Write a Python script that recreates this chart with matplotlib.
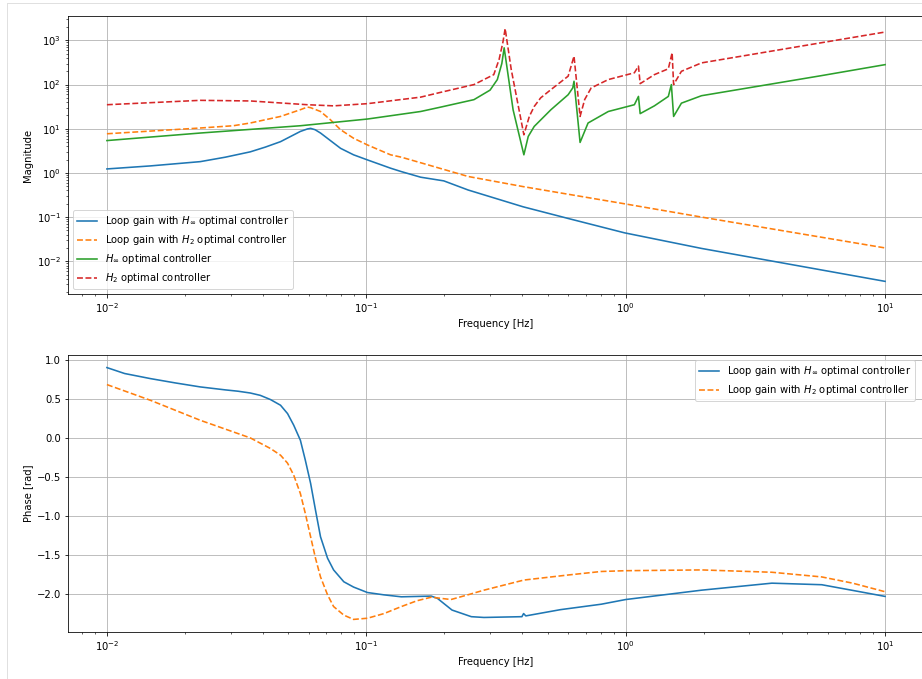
import numpy as np
import matplotlib
matplotlib.use('Agg')
import matplotlib.pyplot as plt
from matplotlib.lines import Line2D

# magnitude curves
f_Lhinf = [0.0100, 0.0147, 0.0229, 0.0286, 0.0357, 0.0408, 0.0467, 0.0557, 0.0593, 0.0610,
           0.0635, 0.0666, 0.0727, 0.0796, 0.0893, 0.101, 0.124, 0.1365, 0.162, 0.199,
           0.247, 0.402, 0.600, 0.989, 1.96, 10.0]
m_Lhinf = [1.23, 1.44, 1.8, 2.27, 3.0, 3.84, 5.1, 8.7, 9.9, 10.2,
           9.5, 8.0, 5.4, 3.6, 2.57, 1.97, 1.28, 1.07, 0.80, 0.66,
           0.41, 0.171, 0.093, 0.044, 0.0195, 0.0035]

f_Lh2 = [0.0100, 0.0229, 0.0307, 0.0357, 0.0467, 0.0557, 0.0593, 0.0610, 0.0666, 0.0727,
         0.0796, 0.0893, 0.101, 0.124, 0.1365, 0.162, 0.247, 0.402, 0.989, 1.96, 10.0]
m_Lh2 = [7.7, 10.4, 11.7, 13.5, 19, 27, 31, 30, 24.6, 16,
         9.5, 6.1, 4.3, 2.57, 2.27, 1.7, 0.83, 0.49, 0.20, 0.10, 0.02]

f_Khinf = [0.0100, 0.0229, 0.0557, 0.101, 0.162, 0.194, 0.260, 0.300, 0.320, 0.333,
           0.340, 0.368, 0.405, 0.421, 0.444, 0.515, 0.600, 0.625, 0.632, 0.667,
           0.716, 0.857, 1.08, 1.12, 1.137, 1.29, 1.46, 1.50, 1.53, 1.64,
           1.96, 5.70, 10.0]
m_Khinf = [5.4, 8.0, 11.7, 16.6, 24.6, 31, 45.6, 75, 130, 300,
           680, 27, 2.57, 6.7, 11.3, 27, 59, 84, 119, 4.9,
           13.5, 24.6, 35, 54, 22, 33, 54, 100, 19, 38,
           56, 160, 283]

f_Kh2 = [0.0100, 0.0229, 0.0357, 0.0593, 0.0748, 0.101, 0.162, 0.194, 0.260, 0.310,
         0.325, 0.336, 0.343, 0.362, 0.405, 0.425, 0.444, 0.470, 0.515, 0.600,
         0.632, 0.667, 0.695, 0.736, 0.857, 1.08, 1.12, 1.137, 1.29, 1.46,
         1.51, 1.53, 1.64, 1.96, 5.70, 10.0]
m_Kh2 = [35, 44, 42.6, 35, 33, 37, 52, 67, 100, 168,
         370, 890, 1850, 220, 7.3, 19, 32, 50, 77, 155,
         440, 19, 46, 84, 130, 185, 262, 105, 168, 228,
         525, 100, 200, 310, 890, 1550]

# phase curves
f_Phinf = [0.0100, 0.0117, 0.0147, 0.0183, 0.0229, 0.0286, 0.0320, 0.0357, 0.0390, 0.0427,
           0.0467, 0.0497, 0.0525, 0.0557, 0.0582, 0.0610, 0.0637, 0.0666, 0.0709, 0.0748,
           0.0819, 0.0893, 0.101, 0.117, 0.1365, 0.178, 0.188, 0.214, 0.254, 0.284,
           0.398, 0.404, 0.412, 0.560, 0.805, 1.0, 1.96, 3.66, 5.70, 8.0, 10.0]
p_Phinf = [0.906, 0.83, 0.765, 0.71, 0.658, 0.62, 0.603, 0.58, 0.55, 0.496,
           0.423, 0.316, 0.167, -0.026, -0.282, -0.58, -0.923, -1.265, -1.54, -1.69,
           -1.842, -1.91, -1.98, -2.01, -2.035, -2.026, -2.055, -2.205, -2.29, -2.30,
           -2.29, -2.25, -2.28, -2.20, -2.13, -2.07, -1.95, -1.86, -1.88, -1.97, -2.03]

f_Ph2 = [0.0100, 0.0147, 0.0229, 0.0357, 0.0427, 0.0467, 0.0497, 0.0525, 0.0557, 0.0582,
         0.0610, 0.0637, 0.0666, 0.0709, 0.0748, 0.0819, 0.0893, 0.101, 0.117, 0.1365,
         0.157, 0.178, 0.212, 0.246, 0.284, 0.405, 0.597, 0.805, 1.0, 1.96,
         3.66, 5.70, 7.5, 10.0]
p_Ph2 = [0.688, 0.487, 0.23, 0.004, -0.132, -0.218, -0.32, -0.474, -0.71, -0.966,
         -1.265, -1.54, -1.78, -2.01, -2.16, -2.27, -2.325, -2.31, -2.25, -2.16,
         -2.085, -2.04, -2.07, -2.01, -1.95, -1.82, -1.756, -1.71, -1.70, -1.69,
         -1.72, -1.78, -1.86, -1.97]

lab_Lhinf = 'Loop gain with $H_\\infty$ optimal controller'
lab_Lh2 = 'Loop gain with $H_2$ optimal controller'

fig = plt.figure(figsize=(922/72, 679/72), dpi=72)
ax1 = fig.add_axes([68/922, 1-294/679, 856/922, 278/679])
ax2 = fig.add_axes([68/922, 1-632/679, 856/922, 277/679])

ax1.loglog(f_Lhinf, m_Lhinf, '-', color='C0', lw=1.6, label=lab_Lhinf)
ax1.loglog(f_Lh2, m_Lh2, '--', color='C1', lw=1.6, label=lab_Lh2)
ax1.loglog(f_Khinf, m_Khinf, '-', color='C2', lw=1.6, label='$H_\\infty$ optimal controller')
ax1.loglog(f_Kh2, m_Kh2, '--', color='C3', lw=1.6, label='$H_2$ optimal controller')
ax1.grid(True)
ax1.set_xlabel('Frequency [Hz]')
ax1.set_ylabel('Magnitude')
ax1.legend(loc='lower left')

ax2.semilogx(f_Phinf, p_Phinf, '-', color='C0', lw=1.6, label=lab_Lhinf)
ax2.semilogx(f_Ph2, p_Ph2, '--', color='C1', lw=1.6, label=lab_Lh2)
ax2.grid(True)
ax2.set_xlabel('Frequency [Hz]')
ax2.set_ylabel('Phase [rad]')
ax2.legend(loc='upper right', bbox_to_anchor=(920/856 - 68/856, 1))

# notebook cell border
fig.add_artist(Line2D([7/922, 7/922], [0, 1-3/679], transform=fig.transFigure, color='#e0e0e0', lw=1))
fig.add_artist(Line2D([7/922, 1], [1-3/679, 1-3/679], transform=fig.transFigure, color='#e0e0e0', lw=1))

fig.savefig('out.png', dpi=72)
